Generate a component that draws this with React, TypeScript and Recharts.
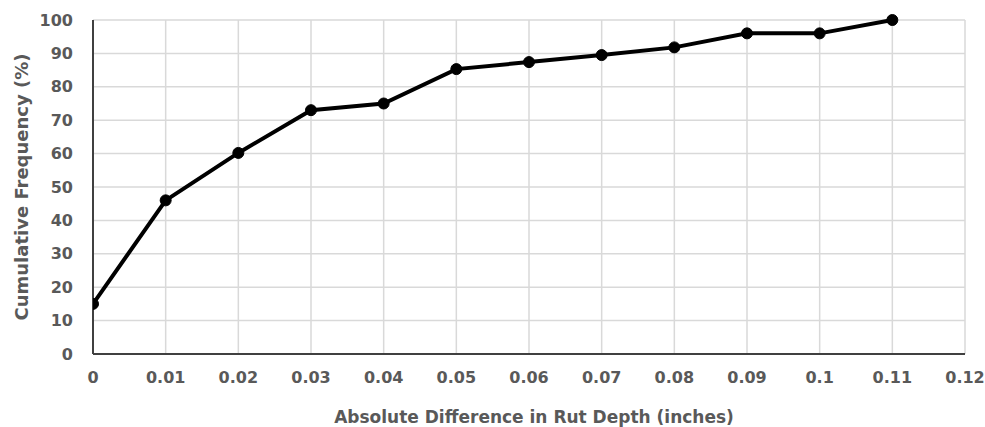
import { LineChart, Line, XAxis, YAxis, CartesianGrid, Label } from "recharts";

const rutDiff = [0, 0.01, 0.02, 0.03, 0.04, 0.05, 0.06, 0.07, 0.08, 0.09, 0.1, 0.11];
const cumFreq = [15, 46, 60.2, 73, 75, 85.3, 87.4, 89.5, 91.8, 96, 96, 100];
const xTicks = [0, 0.01, 0.02, 0.03, 0.04, 0.05, 0.06, 0.07, 0.08, 0.09, 0.1, 0.11, 0.12];
const yTicks = [0, 10, 20, 30, 40, 50, 60, 70, 80, 90, 100];

const data = rutDiff.map((x, i) => ({ x, y: cumFreq[i] }));

const font = "'DejaVu Sans', sans-serif";
const tickStyle = { fill: "#595959", fontSize: 16, fontWeight: 700, fontFamily: font };
const labelStyle = { fill: "#595959", fontSize: 17, fontWeight: 700, fontFamily: font };

export default function App() {
  return (
    <div style={{ position: "absolute", left: 0, top: 0, background: "#fff" }}>
      <LineChart
        width={985}
        height={427}
        data={data}
        margin={{ top: 20, right: 20, bottom: 0, left: 0 }}
      >
        <CartesianGrid stroke="#d9d9d9" strokeWidth={1.5} />
        <XAxis
          dataKey="x"
          type="number"
          domain={[0, 0.12]}
          ticks={xTicks}
          height={73}
          tickSize={0}
          tickMargin={18}
          axisLine={{ stroke: "#404040", strokeWidth: 2 }}
          tick={tickStyle}
          allowDataOverflow
        >
          <Label
            value="Absolute Difference in Rut Depth (inches)"
            position="insideBottom"
            offset={4}
            dx={5}
            style={labelStyle}
          />
        </XAxis>
        <XAxis
          xAxisId="top"
          orientation="top"
          dataKey="x"
          type="number"
          domain={[0, 0.12]}
          height={0}
          tick={false}
          tickLine={false}
          axisLine={{ stroke: "#404040", strokeWidth: 2 }}
        />
        <YAxis
          type="number"
          domain={[0, 100]}
          ticks={yTicks}
          width={93}
          tickSize={0}
          tickMargin={20}
          axisLine={{ stroke: "#404040", strokeWidth: 2 }}
          tick={tickStyle}
        >
          <Label
            value="Cumulative Frequency (%)"
            angle={-90}
            position="insideLeft"
            offset={22}
            style={{ ...labelStyle, fontSize: 18, textAnchor: "middle" }}
          />
        </YAxis>
        <YAxis
          yAxisId="right"
          orientation="right"
          domain={[0, 100]}
          width={0}
          tick={false}
          tickLine={false}
          axisLine={{ stroke: "#404040", strokeWidth: 2 }}
        />
        <Line
          dataKey="y"
          type="linear"
          stroke="#000"
          strokeWidth={4}
          dot={{ r: 5.5, fill: "#000", stroke: "#000", strokeWidth: 1 }}
          isAnimationActive={false}
        />
      </LineChart>
    </div>
  );
}
